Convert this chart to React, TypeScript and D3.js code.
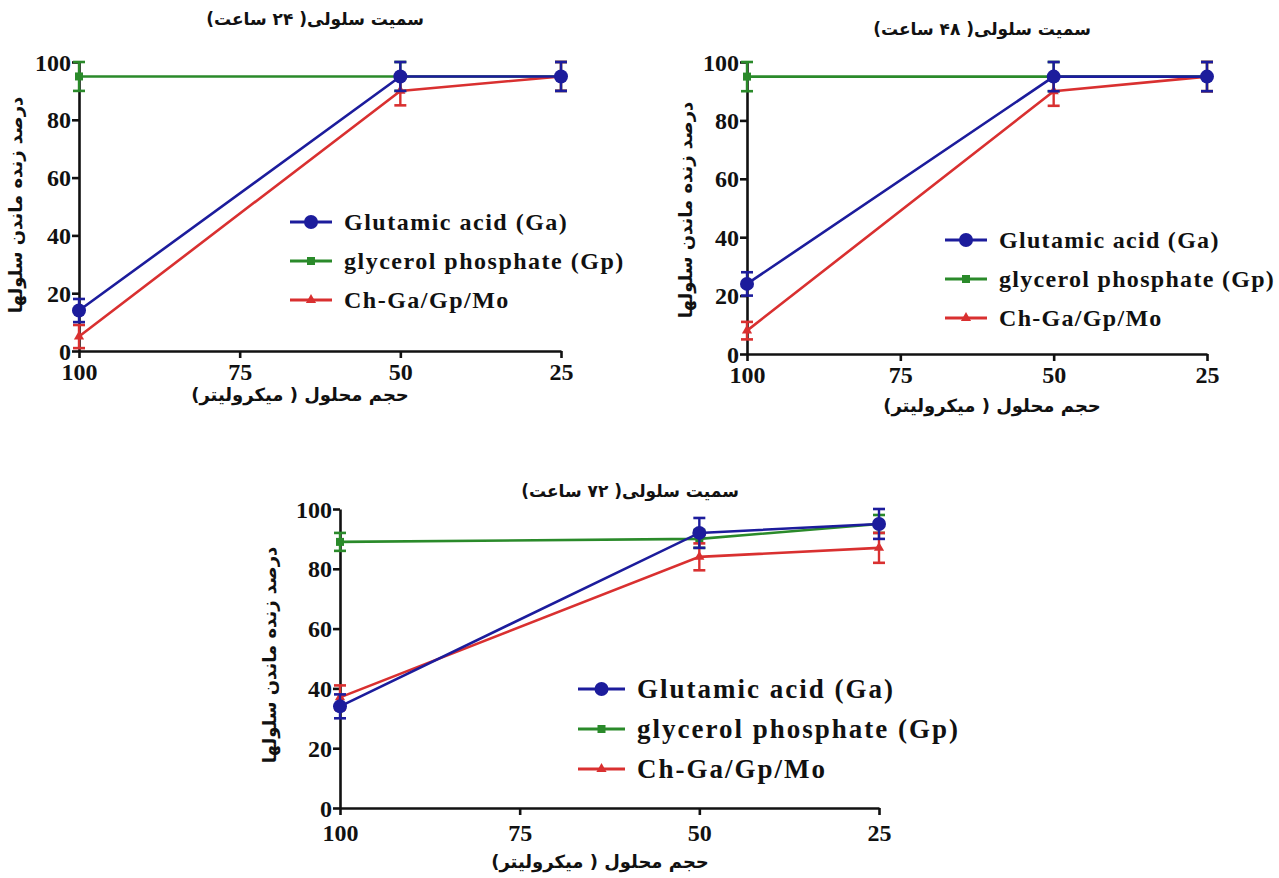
import React, { useEffect, useRef } from "react";
import * as d3 from "d3";

// x axis categories (volume, microlitres) and the doses that have data
const tickLabels = ["100", "75", "50", "25"];
const doses = ["100", "50", "25"];
const yTicks = [0, 20, 40, 60, 80, 100];

const seriesNames = ["Glutamic acid (Ga)", "glycerol phosphate (Gp)", "Ch-Ga/Gp/Mo"];

// 24 h
const ga24 = [14, 95, 95];
const ga24Err = [4, 5, 5];
const gp24 = [95, 95, 95];
const gp24Err = [5, 5, 5];
const ch24 = [5, 90, 95];
const ch24Err = [4, 5, 5];

// 48 h
const ga48 = [24, 95, 95];
const ga48Err = [4, 5, 5];
const gp48 = [95, 95, 95];
const gp48Err = [5, 5, 5];
const ch48 = [8, 90, 95];
const ch48Err = [3, 5, 5];

// 72 h
const ga72 = [34, 92, 95];
const ga72Err = [4, 5, 5];
const gp72 = [89, 90, 95];
const gp72Err = [3, 3, 3];
const ch72 = [37, 84, 87];
const ch72Err = [4, 4.5, 5];

const titles = ["سمیت سلولی( ۲۴ ساعت)", "سمیت سلولی( ۴۸ ساعت)", "سمیت سلولی( ۷۲ ساعت)"];
const yTitle = "درصد زنده ماندن سلولها";
const xTitle = "حجم محلول ( میکرولیتر)";

const BLUE = "#1c1c9c";
const GREEN = "#2a8a2a";
const RED = "#d93030";

const panels = [
  {
    title: titles[0],
    series: [
      { v: gp24, e: gp24Err },
      { v: ch24, e: ch24Err },
      { v: ga24, e: ga24Err },
    ],
    x0: 79, x1: 561, yTop: 62, yBot: 351,
    titleX: 315, titleY: 25,
    xTitleX: 300, xTitleY: 401,
    yTitleX: 16, yTitleY: 205,
    xPad: 5,
    legX: 290, legY: 222, legGap: 39, legFont: 24, legSpacing: 1.5, legLine: 42,
  },
  {
    title: titles[1],
    series: [
      { v: gp48, e: gp48Err },
      { v: ch48, e: ch48Err },
      { v: ga48, e: ga48Err },
    ],
    x0: 747, x1: 1207, yTop: 62, yBot: 354,
    titleX: 982, titleY: 35,
    xTitleX: 992, xTitleY: 412,
    yTitleX: 686, yTitleY: 210,
    xPad: 5,
    legX: 945, legY: 240, legGap: 39, legFont: 24, legSpacing: 1.3, legLine: 42,
  },
  {
    title: titles[2],
    series: [
      { v: gp72, e: gp72Err },
      { v: ch72, e: ch72Err },
      { v: ga72, e: ga72Err },
    ],
    x0: 340, x1: 879, yTop: 509, yBot: 808,
    titleX: 630, titleY: 497,
    xTitleX: 600, xTitleY: 868,
    yTitleX: 270, yTitleY: 655,
    xPad: 9,
    legX: 578, legY: 689, legGap: 40, legFont: 27, legSpacing: 2, legLine: 47,
  },
];

// draw order is green, red, blue; map to colours/markers
const styles = [
  { color: GREEN, marker: "square" },
  { color: RED, marker: "triangle" },
  { color: BLUE, marker: "circle" },
];
const legendOrder = [2, 0, 1]; // Ga, Gp, Ch

const serif = "Liberation Serif, DejaVu Serif, serif";
const persian = "DejaVu Sans, sans-serif";

function drawMarker(g: any, kind: string, x: number, y: number, color: string) {
  if (kind === "circle") {
    g.append("circle").attr("cx", x).attr("cy", y).attr("r", 7).attr("fill", color);
  } else if (kind === "square") {
    g.append("rect").attr("x", x - 4).attr("y", y - 4).attr("width", 8).attr("height", 8).attr("fill", color);
  } else {
    const sym = d3.symbol().type(d3.symbolTriangle).size(45);
    g.append("path").attr("d", sym()).attr("transform", `translate(${x},${y})`).attr("fill", color);
  }
}

export default function App() {
  const ref = useRef<SVGSVGElement | null>(null);

  useEffect(() => {
    const svg = d3.select(ref.current);
    svg.selectAll("*").remove();

    panels.forEach((p) => {
      const g = svg.append("g");
      const x = d3.scalePoint<string>().domain(tickLabels).range([p.x0, p.x1]);
      const y = d3.scaleLinear().domain([0, 100]).range([p.yBot, p.yTop]);

      // axes
      const yAxis = g.append("g").attr("transform", `translate(${p.x0},0)`)
        .call(d3.axisLeft(y).tickValues(yTicks).tickSize(7).tickSizeOuter(0).tickPadding(1));
      const xAxis = g.append("g").attr("transform", `translate(0,${p.yBot})`)
        .call(d3.axisBottom(x).tickSize(7).tickSizeOuter(0).tickPadding(p.xPad));
      [yAxis, xAxis].forEach((a) => {
        a.attr("font-family", serif).attr("font-size", 24).attr("font-weight", 700);
        a.select(".domain").attr("stroke", "#111").attr("stroke-width", 2.6);
        a.selectAll(".tick line").attr("stroke", "#111").attr("stroke-width", 2.6);
        a.selectAll("text").attr("fill", "#111");
      });
      yAxis.selectAll("text").attr("dy", "0.34em");

      // series
      p.series.forEach((s, si) => {
        const st = styles[si];
        const pts = doses.map((d, i) => ({ x: x(d) as number, y: s.v[i], e: s.e[i] }));
        const line = d3.line<any>().x((d) => d.x).y((d) => y(d.y));
        g.append("path").attr("d", line(pts)).attr("fill", "none")
          .attr("stroke", st.color).attr("stroke-width", 2.6);
        pts.forEach((pt) => {
          const top = y(pt.y + pt.e);
          const bot = y(pt.y - pt.e);
          g.append("line").attr("x1", pt.x).attr("x2", pt.x).attr("y1", top).attr("y2", bot)
            .attr("stroke", st.color).attr("stroke-width", 2.4);
          [top, bot].forEach((yy) => {
            g.append("line").attr("x1", pt.x - 6).attr("x2", pt.x + 6).attr("y1", yy).attr("y2", yy)
              .attr("stroke", st.color).attr("stroke-width", 2.6);
          });
          drawMarker(g, st.marker, pt.x, y(pt.y), st.color);
        });
      });

      // legend
      legendOrder.forEach((si, k) => {
        const st = styles[si];
        const ly = p.legY + k * p.legGap;
        g.append("line").attr("x1", p.legX).attr("x2", p.legX + p.legLine).attr("y1", ly).attr("y2", ly)
          .attr("stroke", st.color).attr("stroke-width", 3);
        drawMarker(g, st.marker, p.legX + p.legLine / 2, ly, st.color);
        g.append("text").attr("x", p.legX + p.legLine + 12).attr("y", ly).attr("dy", "0.35em")
          .attr("font-family", serif).attr("font-weight", 700)
          .attr("font-size", p.legFont).attr("letter-spacing", p.legSpacing)
          .attr("fill", "#111").text(seriesNames[k]);
      });

      // titles
      g.append("text").attr("x", p.titleX).attr("y", p.titleY).attr("text-anchor", "middle")
        .attr("direction", "rtl").attr("font-family", persian).attr("font-weight", 700)
        .attr("font-size", 17).attr("fill", "#111").text(p.title);
      g.append("text").attr("x", p.xTitleX).attr("y", p.xTitleY).attr("text-anchor", "middle")
        .attr("direction", "rtl").attr("font-family", persian).attr("font-weight", 700)
        .attr("font-size", 18).attr("fill", "#111").text(xTitle);
      g.append("text").attr("transform", `translate(${p.yTitleX},${p.yTitleY}) rotate(-90)`)
        .attr("text-anchor", "middle").attr("dy", "0.35em")
        .attr("direction", "rtl").attr("font-family", persian).attr("font-weight", 700)
        .attr("font-size", 18).attr("fill", "#111").text(yTitle);
    });
  }, []);

  return (
    <svg ref={ref} width={1279} height={878}
      style={{ position: "absolute", left: 0, top: 0, background: "#fff" }} />
  );
}
